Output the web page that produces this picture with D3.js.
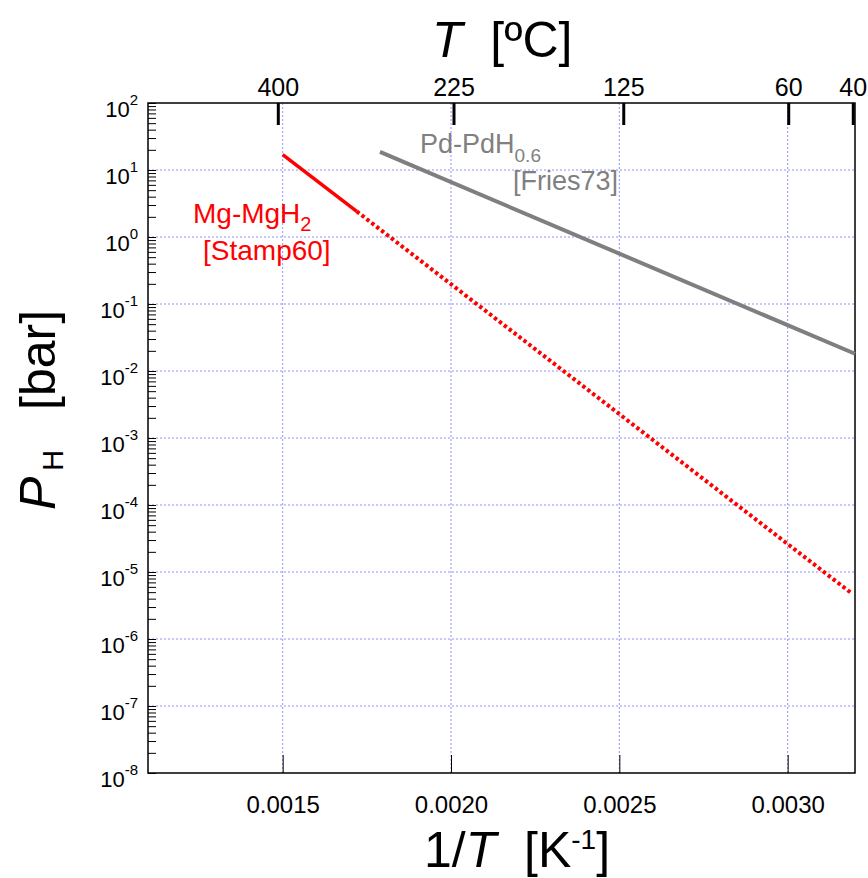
<!DOCTYPE html>
<html>
<head>
<meta charset="utf-8">
<script src="https://cdn.jsdelivr.net/npm/d3@7"></script>
<style>
  html, body { margin: 0; padding: 0; background: #fff; }
  svg { display: block; font-family: "Liberation Sans", Arial, sans-serif; }
</style>
</head>
<body>
<svg id="chart" width="868" height="878"></svg>
<script>
// ---------------- data ----------------
const invTTicks = [0.0015, 0.0020, 0.0025, 0.0030];      // bottom axis, 1/T [K^-1]
const celsiusTicks = [400, 225, 125, 60, 40];            // top axis, T [ºC]
const decadeExponents = [-8, -7, -6, -5, -4, -3, -2, -1, 0, 1, 2];
const mgSolidInvT = [0.0015, 0.00172];
const mgSolidP = [16.9, 2.41];
const mgDottedInvT = [0.00172, 0.00319];
const mgDottedP = [2.41, 4.8e-6];
const pdInvT = [0.001789, 0.0032];
const pdP = [18.6, 0.0181];

(function () {
// ---------------- layout ----------------
const pL = 148, pR = 855, pT = 103, pB = 773;
const svg = d3.select("#chart");

const x = d3.scaleLinear().domain([0.0011, 0.0032]).range([pL, pR]);
const y = d3.scaleLog().domain([1e-8, 1e2]).range([pB, pT]);

const gridColor = "#9090ff";

// grid lines
const grid = svg.append("g");
grid.selectAll("line.v").data(invTTicks).join("line")
  .attr("x1", d => x(d)).attr("x2", d => x(d))
  .attr("y1", pT).attr("y2", pB)
  .attr("stroke", gridColor).attr("stroke-width", 1).attr("stroke-dasharray", "2,2");
grid.selectAll("line.h").data(decadeExponents.filter(e => e > -8 && e < 2)).join("line")
  .attr("x1", pL).attr("x2", pR)
  .attr("y1", e => y(Math.pow(10, e))).attr("y2", e => y(Math.pow(10, e)))
  .attr("stroke", gridColor).attr("stroke-width", 1).attr("stroke-dasharray", "2,2");

// bottom axis
const bottomAxis = d3.axisBottom(x).tickValues(invTTicks).tickSize(-18).tickPadding(23)
  .tickFormat(d3.format(".4f"));
const gB = svg.append("g").attr("transform", `translate(0,${pB})`).call(bottomAxis);
gB.select(".domain").remove();
gB.selectAll(".tick line").attr("stroke", "#000").attr("stroke-width", 1);
gB.selectAll(".tick text").attr("font-size", 24).attr("fill", "#000")
  .attr("font-family", "Liberation Sans, Arial, sans-serif");

// top axis (Celsius)
const topAxis = d3.axisTop(x).tickValues(celsiusTicks.map(c => 1 / (c + 273.15)))
  .tickSize(-22).tickPadding(7)
  .tickFormat((d, i) => celsiusTicks[i]);
const gT = svg.append("g").attr("transform", `translate(0,${pT})`).call(topAxis);
gT.select(".domain").remove();
gT.selectAll(".tick line").attr("stroke", "#000").attr("stroke-width", 3);
gT.selectAll(".tick text").attr("font-size", 25).attr("fill", "#000")
  .attr("font-family", "Liberation Sans, Arial, sans-serif");

// left axis minor/major ticks
const logTicks = [];
decadeExponents.forEach(e => {
  if (e < 2) for (let m = 1; m <= 9; m++) logTicks.push(m * Math.pow(10, e));
  else logTicks.push(Math.pow(10, e));
});
const leftAxis = d3.axisLeft(y).tickValues(logTicks).tickSize(-8).tickFormat("");
const gL = svg.append("g").attr("transform", `translate(${pL},0)`).call(leftAxis);
gL.select(".domain").remove();
gL.selectAll(".tick line").attr("stroke", "#000").attr("stroke-width", 1);

// left labels 10^n
const lbl = svg.append("g");
decadeExponents.forEach(e => {
  const t = lbl.append("text")
    .attr("x", 138).attr("y", y(Math.pow(10, e)) + 14)
    .attr("text-anchor", "end").attr("font-size", 22).attr("fill", "#000");
  t.append("tspan").text("10");
  t.append("tspan").attr("font-size", 15).attr("dy", -12).text(String(e));
});

// frame
svg.append("rect").attr("x", pL).attr("y", pT)
  .attr("width", pR - pL).attr("height", pB - pT)
  .attr("fill", "none").attr("stroke", "#000").attr("stroke-width", 1.5);

// lines
const line = d3.line().x(d => x(d[0])).y(d => y(d[1]));
const zipPts = (a, b) => a.map((v, i) => [v, b[i]]);

svg.append("path").datum(zipPts(pdInvT, pdP)).attr("d", line)
  .attr("fill", "none").attr("stroke", "#7f7f7f").attr("stroke-width", 4);
svg.append("path").datum(zipPts(mgSolidInvT, mgSolidP)).attr("d", line)
  .attr("fill", "none").attr("stroke", "#ff0000").attr("stroke-width", 3.5);
svg.append("path").datum(zipPts(mgDottedInvT, mgDottedP)).attr("d", line)
  .attr("fill", "none").attr("stroke", "#ff0000").attr("stroke-width", 4)
  .attr("stroke-dasharray", "3.4,2.8");

// annotations
const pd1 = svg.append("text").attr("x", 420).attr("y", 153)
  .attr("font-size", 27).attr("fill", "#808080");
pd1.append("tspan").text("Pd-PdH");
pd1.append("tspan").attr("font-size", 19).attr("dy", 9).text("0.6");
svg.append("text").attr("x", 618).attr("y", 190).attr("text-anchor", "end")
  .attr("font-size", 27).attr("fill", "#808080").text("[Fries73]");

const mg1 = svg.append("text").attr("x", 193).attr("y", 223)
  .attr("font-size", 28).attr("fill", "#ff0000");
mg1.append("tspan").text("Mg-MgH");
mg1.append("tspan").attr("font-size", 20).attr("dy", 8).text("2");
svg.append("text").attr("x", 203).attr("y", 260)
  .attr("font-size", 28).attr("fill", "#ff0000").text("[Stamp60]");

// axis titles
const tt = svg.append("text").attr("x", 432).attr("y", 57).attr("font-size", 50).attr("fill", "#000");
tt.append("tspan").attr("font-style", "italic").text("T");
tt.append("tspan").text("\u00a0\u00a0[ºC]");

const bt = svg.append("text").attr("x", 424).attr("y", 867).attr("font-size", 50).attr("fill", "#000");
bt.append("tspan").text("1/");
bt.append("tspan").attr("font-style", "italic").text("T");
bt.append("tspan").text("\u00a0\u00a0[K");
bt.append("tspan").attr("font-size", 28).attr("dy", -18).text("-1");
bt.append("tspan").attr("dy", 18).text("]");

const yt = svg.append("text").attr("transform", "translate(55,510) rotate(-90)")
  .attr("font-size", 50).attr("fill", "#000");
yt.append("tspan").attr("font-style", "italic").text("P");
yt.append("tspan").attr("font-size", 29).attr("dx", 6).attr("dy", 8).text("H");
yt.append("tspan").attr("dx", 12).attr("dy", -8).text("\u00a0\u00a0[bar]");
})();
</script>
</body>
</html>
